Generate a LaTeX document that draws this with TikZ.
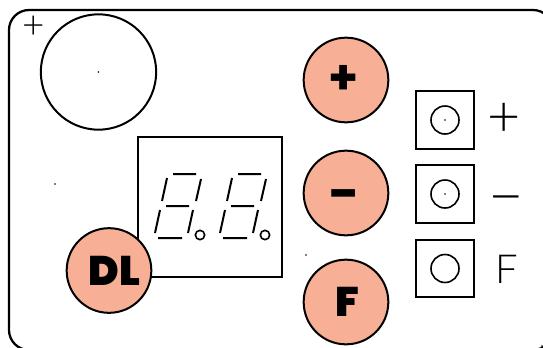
\documentclass[tikz,border=0pt]{standalone}
\usepackage{fontspec}
\setmainfont{DejaVu Sans}
\newfontfamily\thinfont{Lato Light}
\newfontfamily\heavyfont{Poppins Black}
\newfontfamily\plusfont{Poppins Bold}
\definecolor{keycol}{RGB}{247,176,150}
\tikzset{
	keybtn/.style={circle, draw, line width=1.5pt, fill=keycol, minimum size=63.5pt, inner sep=0pt, font=\fontsize{#1}{#1}\heavyfont},
	ledbox/.style={draw, line width=1.4pt, minimum size=43pt, inner sep=0pt},
	ledhole/.style={circle, draw, line width=1.2pt, minimum size=21pt, inner sep=0pt},
	decpoint/.style={circle, draw, line width=1.2pt, minimum size=7pt, inner sep=0pt},
	seg/.style={line width=1.5pt},
	thinlbl/.style={font=\fontsize{#1}{#1}\thinfont, inner sep=0pt},
	speck/.style={circle, fill=black, minimum size=1.2pt, inner sep=0pt}
}
\newcommand{\digitsegs}[1]{
	\draw[seg, shift={(#1,0)}] (173,174) -- (196,174) (167,178) -- (162,201) (201,179) -- (196,201)
	(166,206) -- (189,206) (160,210) -- (155,233) (193,210) -- (188,233) (158,238) -- (182,238);
}
\begin{document}
\begin{tikzpicture}[x=0.75pt, y=-0.75pt]
	\useasboundingbox (0,0) rectangle (543,347);
	\begin{scope}
		\clip (0,0) rectangle (543,347);
		\draw[line width=1.7pt, rounded corners=15pt] (9,10) rectangle (553,350);
	\end{scope}
	\node[thinlbl=29pt] (plusmark) at (34,27.5) {+};
	\node[circle, draw, line width=1.5pt, minimum size=86.5pt, inner sep=0pt] (bigdisc) at (98.5,72) {};
	\node[speck] at (bigdisc.center) {};
	\node[draw, line width=1.5pt, minimum width=108pt, minimum height=104.5pt, inner sep=0pt] (display) at (209.5,207) {};
	\digitsegs{0}
	\digitsegs{65}
	\node[decpoint] (dpa) at (200,235) {};
	\node[decpoint] (dpb) at (265,235) {};
	\node[keybtn=31pt] (keydl) at (109,270.5) {\kern8pt DL};
	\node[keybtn=40pt, font=\fontsize{36pt}{36pt}\plusfont] (keyplus) at (346,80) {\kern-3pt +};
	\node[keybtn=31pt, text height=21pt] (keyminus) at (346,193) {\kern-3pt –};
	\node[keybtn=31pt] (keyf) at (346,302) {\kern2pt F};
	\node[ledbox] (boxa) at (445,120) {};
	\node[ledhole] (holea) at (boxa.center) {};
	\node[speck] at (boxa.center) {};
	\node[ledbox] (boxb) at (445,194) {};
	\node[ledhole] (holeb) at (boxb.center) {};
	\node[speck] at (boxb.center) {};
	\node[ledbox] (boxc) at (445,268.5) {};
	\node[ledhole] (holec) at (boxc.center) {};
	\node[thinlbl=43pt] (lbla) at (504,120) {+};
	\node[thinlbl=46pt] (lblb) at (506.5,207) {−};
	\node[thinlbl=30pt] (lblc) at (507,269) {F};
	\node[speck] at (55,184) {};
	\node[speck] at (306,255) {};
	\node[speck] at (542,346) {};
\end{tikzpicture}
\end{document}
